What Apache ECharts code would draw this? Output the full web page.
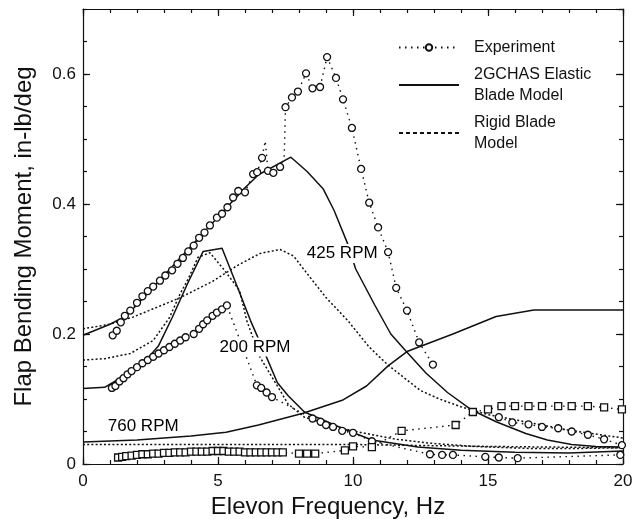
<!DOCTYPE html>
<html>
<head>
<meta charset="utf-8">
<script src="https://cdn.jsdelivr.net/npm/echarts@6/dist/echarts.min.js"></script>
<style>html,body{margin:0;padding:0;background:#fff;}#c{width:637px;height:519px;}</style>
</head>
<body>
<div id="c"></div>
<script>
// ---- data (x = Elevon Frequency Hz, y = Flap Bending Moment in-lb/deg) ----
const xTickLabels = [0, 5, 10, 15, 20];
const yTickLabels = [0, 0.2, 0.4, 0.6];
const legendNames = ['Experiment', '2GCHAS Elastic\nBlade Model', 'Rigid Blade\nModel'];
const rpmLabels = ['425 RPM', '200 RPM', '760 RPM'];

// Experiment, 425 RPM (circles)
const exp425 = [[1.1,0.198],[1.25,0.205],[1.4,0.218],[1.55,0.228],[1.75,0.236],[2.0,0.248],[2.2,0.258],[2.4,0.266],
  [2.6,0.273],[2.85,0.282],[3.05,0.29],[3.3,0.298],[3.5,0.308],[3.7,0.317],[3.9,0.327],[4.1,0.336],[4.3,0.348],
  [4.5,0.356],[4.7,0.367],[4.96,0.379],[5.15,0.385],[5.35,0.395],[5.56,0.41],[5.75,0.42],[6.0,0.418],[6.3,0.446],
  [6.45,0.449],[6.63,0.471],[6.75,0.497],[6.85,0.451],[7.05,0.448],[7.3,0.457],[7.45,0.47],[7.5,0.549],[7.74,0.564],
  [7.96,0.573],[8.26,0.601],[8.5,0.578],[8.78,0.58],[9.04,0.626],[9.37,0.594],[9.63,0.561],[9.96,0.517],[10.3,0.454],
  [10.6,0.402],[10.93,0.364],[11.3,0.326],[11.6,0.271],[12.0,0.236],[12.45,0.187],[12.96,0.153]];
const exp425Unmarked = [6.75, 7.45];   // line vertices without a measured point
const exp425Tail = [[15.4,0.072],[15.9,0.064],[16.5,0.061],[17.0,0.057],[17.6,0.055],[18.1,0.05],[18.7,0.045],
  [19.3,0.038],[19.96,0.029]];

// Experiment, 200 RPM (circles)
const exp200 = [[1.07,0.117],[1.2,0.12],[1.35,0.127],[1.5,0.132],[1.65,0.138],[1.8,0.143],[2.0,0.149],[2.2,0.155],
  [2.4,0.16],[2.6,0.165],[2.8,0.17],[3.0,0.175],[3.2,0.18],[3.4,0.185],[3.6,0.19],[3.8,0.195],[4.1,0.2],[4.3,0.208],
  [4.45,0.215],[4.6,0.221],[4.8,0.228],[4.96,0.233],[5.15,0.238],[5.33,0.244],[6.44,0.121],[6.6,0.117],[6.8,0.11],
  [7.0,0.103],[8.5,0.07],[8.8,0.065],[9.0,0.06],[9.26,0.057],[9.6,0.051],[10.0,0.048],[10.7,0.035],[12.85,0.015],
  [13.3,0.014],[13.7,0.014],[14.9,0.011],[15.4,0.01],[16.1,0.009],[19.9,0.014]];

// Experiment, 760 RPM (squares)
const exp760 = [[1.3,0.010],[1.45,0.011],[1.6,0.012],[1.8,0.013],[2.0,0.014],[2.2,0.015],[2.4,0.015],[2.6,0.016],
  [2.8,0.016],[3.0,0.017],[3.2,0.017],[3.4,0.018],[3.6,0.018],[3.8,0.018],[4.0,0.019],[4.2,0.019],[4.4,0.019],
  [4.6,0.019],[4.8,0.02],[5.0,0.02],[5.2,0.02],[5.4,0.019],[5.6,0.019],[5.8,0.019],[6.0,0.018],[6.2,0.018],
  [6.4,0.018],[6.6,0.018],[6.8,0.018],[7.0,0.018],[7.2,0.018],[7.4,0.018],[8.0,0.016],[8.3,0.016],[8.6,0.016],
  [9.7,0.021],[10.0,0.027],[10.7,0.026],[11.8,0.051],[13.8,0.06],[14.44,0.08],[15.0,0.084],[15.5,0.089],[16.0,0.089],
  [16.5,0.089],[17.0,0.089],[17.6,0.089],[18.1,0.089],[18.7,0.089],[19.3,0.087],[19.96,0.084]];

// 2GCHAS elastic blade model (solid)
const el425 = [[0,0.198],[1,0.215],[1.6,0.228],[2,0.245],[3,0.29],[4,0.335],[5,0.38],[6,0.425],[6.5,0.445],
  [7.7,0.472],[8.3,0.45],[8.9,0.423],[9.3,0.39],[9.8,0.339],[10.1,0.30],[10.8,0.245],[11.4,0.2],[12.0,0.172],
  [12.7,0.14],[13.5,0.11],[14.4,0.083],[15.3,0.065],[16.4,0.047],[17.2,0.037],[18.1,0.03],[19,0.027],[20,0.026]];
const el200 = [[0,0.116],[0.8,0.118],[1.5,0.135],[2.3,0.158],[2.8,0.182],[3.3,0.225],[3.9,0.28],[4.45,0.327],
  [5.15,0.332],[5.55,0.29],[6.2,0.221],[6.8,0.164],[7.2,0.125],[7.6,0.105],[8.2,0.08],[9.6,0.055],[10.7,0.037],
  [12.4,0.026],[14,0.021],[16,0.018],[18,0.017],[20,0.02]];
const el760 = [[0,0.034],[2,0.037],[4,0.043],[5.3,0.049],[6.5,0.06],[8.15,0.078],[9.6,0.098],[10.5,0.12],
  [11.3,0.151],[12,0.173],[13.7,0.2],[15.3,0.227],[16.7,0.237],[20,0.237]];

// Rigid blade model (dotted)
const rg425 = [[0,0.208],[1,0.215],[1.85,0.226],[2.5,0.237],[3.6,0.256],[4.8,0.281],[5.7,0.305],[6.56,0.324],
  [7.3,0.33],[7.8,0.32],[8.3,0.293],[9.0,0.256],[9.8,0.221],[10.6,0.18],[11.3,0.152],[12.5,0.113],[13.2,0.1],
  [14.0,0.088],[15,0.076],[16,0.068],[17,0.06],[18,0.052],[19,0.046],[20,0.04]];
const rg200 = [[0,0.16],[0.8,0.162],[1.75,0.17],[2.6,0.19],[3.2,0.225],[3.6,0.262],[3.9,0.285],[4.26,0.318],
  [4.7,0.325],[5.2,0.3],[5.8,0.267],[6.07,0.22],[6.56,0.164],[7.3,0.113],[7.6,0.092],[8.2,0.072],[9.15,0.06],
  [10.1,0.05],[11.6,0.038],[12.85,0.032],[14.5,0.027],[16.5,0.024],[18.5,0.024],[20,0.025]];
const rg760 = [[0,0.03],[5,0.03],[10,0.03],[15,0.027],[20,0.025]];

// ---- chart ----
const FONT = 'Liberation Sans, Arial, Helvetica, sans-serif';
const black = '#111';
const expLine = {color: black, width: 1.4, type: [1.5, 4.5]};
const elLine = {color: black, width: 1.5, type: 'solid'};
const rgLine = {color: black, width: 1.5, type: [2, 2.2]};
const circleItem = {color: '#fff', borderColor: black, borderWidth: 1.3};

function expSeries(name, data, symbol, size) {
  return {name, type: 'line', data, symbol, symbolSize: size, showSymbol: true,
    lineStyle: expLine, itemStyle: circleItem, z: 4};
}
function lineSeries(name, data, ls) {
  return {name, type: 'line', data, symbol: 'none', lineStyle: ls, itemStyle: {color: black}, z: 3};
}

const exp425Data = exp425.map(p => exp425Unmarked.includes(p[0]) ? {value: p, symbol: 'none'} : p);

const tickStyle = {color: black, width: 1.2};
function axis(extra) {
  return Object.assign({type: 'value', splitLine: {show: false},
    axisLine: {show: false, onZero: false, lineStyle: tickStyle},
    axisLabel: {show: false}, axisTick: {show: true, inside: true, length: 4, lineStyle: tickStyle}}, extra);
}
const lineOn = {show: true, onZero: false, lineStyle: tickStyle};
const majorTick = {show: true, inside: true, length: 7, lineStyle: tickStyle};
const hiddenSymbol = {opacity: 0};

const option = {
  animation: false,
  backgroundColor: '#fff',
  textStyle: {fontFamily: FONT},
  grid: {left: 83, right: 14, top: 9, bottom: 55, containLabel: false, outerBoundsMode: 'none'},
  legend: {
    orient: 'vertical', left: 393, top: 32, itemWidth: 60, itemHeight: 8, itemGap: 6,
    selectedMode: false,
    textStyle: {fontFamily: FONT, fontSize: 16, color: black, lineHeight: 21, padding: [0, 0, 0, 10]},
    data: [
      {name: legendNames[0]},
      {name: legendNames[1], itemStyle: hiddenSymbol},
      {name: legendNames[2], itemStyle: hiddenSymbol, lineStyle: {type: [4, 3]}}
    ]
  },
  xAxis: [
    axis({min: 0, max: 20, interval: 5, position: 'bottom', axisLine: lineOn, axisTick: majorTick,
      axisLabel: {show: true, margin: 9, fontSize: 17, color: black, fontFamily: FONT,
        formatter: v => xTickLabels.includes(v) ? String(v) : ''},
      name: 'Elevon Frequency, Hz', nameLocation: 'middle', nameGap: 31,
      nameTextStyle: {fontSize: 24, color: black, fontFamily: FONT, padding: [0, 50, 0, 0]}}),
    axis({min: 0, max: 20, interval: 1, position: 'bottom'}),
    axis({min: 0, max: 20, interval: 1, position: 'top', axisLine: lineOn}),
    axis({min: 0, max: 20, interval: 5, position: 'top', axisTick: majorTick})
  ],
  yAxis: [
    axis({min: 0, max: 0.7, interval: 0.2, position: 'left', axisLine: lineOn, axisTick: majorTick,
      axisLabel: {show: true, margin: 7, fontSize: 17, color: black, fontFamily: FONT, showMaxLabel: false,
        formatter: v => { const t = yTickLabels.find(k => Math.abs(k - v) < 1e-6); return t === undefined ? '' : (t === 0 ? '0' : t.toFixed(1)); }},
      name: 'Flap Bending Moment, in-lb/deg', nameLocation: 'middle', nameGap: 47,
      nameTextStyle: {fontSize: 24, color: black, fontFamily: FONT}}),
    axis({min: 0, max: 0.7, interval: 0.05, position: 'left'}),
    axis({min: 0, max: 0.7, interval: 0.05, position: 'right', axisLine: lineOn}),
    axis({min: 0, max: 0.7, interval: 0.2, position: 'right', axisTick: majorTick})
  ],
  series: [
    expSeries(legendNames[0], exp425Data, 'circle', 7),
    expSeries(legendNames[0], exp425Tail, 'circle', 7),
    expSeries(legendNames[0], exp200, 'circle', 7),
    expSeries(legendNames[0], exp760, 'rect', 7),
    lineSeries(legendNames[1], el425, elLine),
    lineSeries(legendNames[1], el200, elLine),
    lineSeries(legendNames[1], el760, elLine),
    lineSeries(legendNames[2], rg425, rgLine),
    lineSeries(legendNames[2], rg200, rgLine),
    lineSeries(legendNames[2], rg760, rgLine),
    {
      type: 'scatter', z: 10, symbolSize: 1, itemStyle: {color: 'rgba(255,255,255,0)'}, silent: true,
      data: [
        {name: rpmLabels[0], value: [9.6, 0.324]},
        {name: rpmLabels[1], value: [6.37, 0.18]},
        {name: rpmLabels[2], value: [2.23, 0.058]}
      ],
      label: {show: true, position: 'inside', formatter: p => p.name, fontSize: 17, color: '#000',
        opacity: 1, textBorderWidth: 0, textBorderColor: 'transparent',
        fontFamily: FONT, backgroundColor: '#fff', padding: [1, 2]}
    }
  ]
};

const chart = echarts.init(document.getElementById('c'), null, {renderer: 'canvas'});
chart.setOption(option);
</script>
</body>
</html>
